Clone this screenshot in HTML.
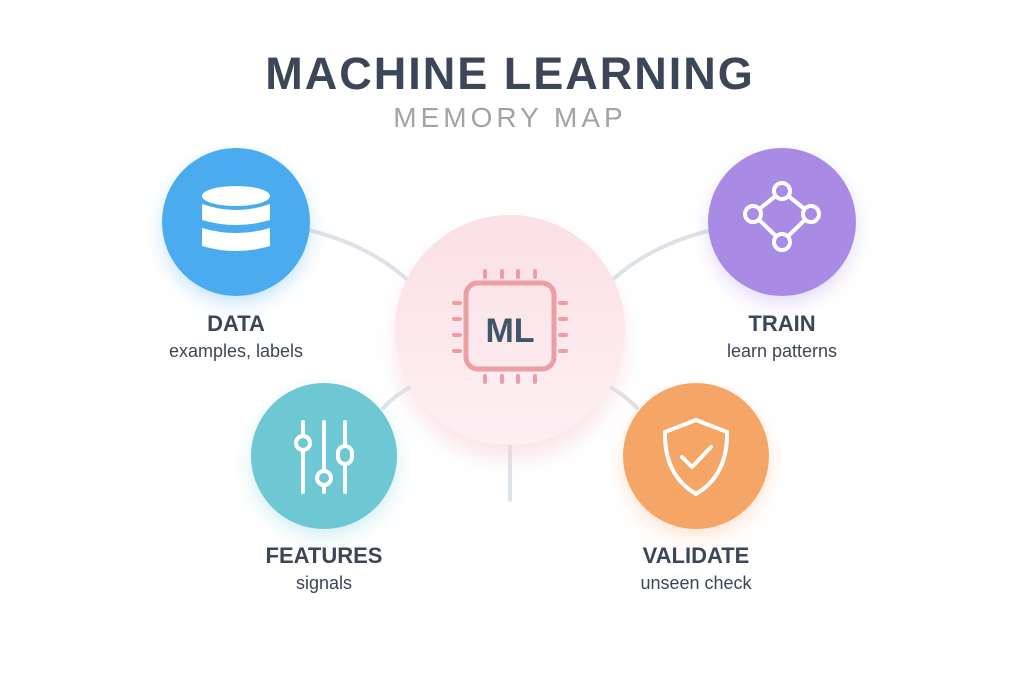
<!DOCTYPE html>
<html><head><meta charset="utf-8"><style>
body{margin:0;width:1024px;height:684px;background:#fff;overflow:hidden;font-family:"Liberation Sans",sans-serif;}
</style></head><body>
<svg width="1024" height="684" viewBox="0 0 1024 684" xmlns="http://www.w3.org/2000/svg">
<defs>
<filter id="sh" x="-50%" y="-50%" width="200%" height="200%"><feGaussianBlur stdDeviation="10"/></filter>
<linearGradient id="cg" x1="0" y1="0" x2="0" y2="1"><stop offset="0" stop-color="#fbe0e5"/><stop offset="1" stop-color="#fcf0f3"/></linearGradient>
</defs>
<text x="510" y="89" text-anchor="middle" font-size="45" font-weight="bold" fill="#3d4656" letter-spacing="2">MACHINE LEARNING</text>
<text x="510" y="127" text-anchor="middle" font-size="28" fill="#a3a3a3" letter-spacing="4">MEMORY MAP</text>
<g stroke="#dde2e8" stroke-width="4" fill="none" stroke-linecap="round">
<path d="M308 230 Q370 245 410 282"/>
<path d="M712 230 Q650 245 610 282"/>
<path d="M383 408 Q395 395 412 386"/>
<path d="M637 408 Q625 395 608 386"/>
<path d="M510 445 L510 500"/>
</g>
<circle cx="510" cy="345" r="115" fill="#f5d5dc" filter="url(#sh)" opacity="0.6"/>
<circle cx="510" cy="330" r="115" fill="url(#cg)"/>
<g fill="#ec9ea4">
<rect x="466" y="283" width="88" height="86" rx="12" fill="none" stroke="#ec9ea4" stroke-width="5"/>
<rect x="483" y="269" width="4" height="10" rx="2"/><rect x="500" y="269" width="4" height="10" rx="2"/><rect x="516" y="269" width="4" height="10" rx="2"/><rect x="533" y="269" width="4" height="10" rx="2"/>
<rect x="483" y="374" width="4" height="10" rx="2"/><rect x="500" y="374" width="4" height="10" rx="2"/><rect x="516" y="374" width="4" height="10" rx="2"/><rect x="533" y="374" width="4" height="10" rx="2"/>
<rect x="452" y="301" width="10" height="4" rx="2"/><rect x="452" y="317" width="10" height="4" rx="2"/><rect x="452" y="333" width="10" height="4" rx="2"/><rect x="452" y="349" width="10" height="4" rx="2"/>
<rect x="558" y="301" width="10" height="4" rx="2"/><rect x="558" y="317" width="10" height="4" rx="2"/><rect x="558" y="333" width="10" height="4" rx="2"/><rect x="558" y="349" width="10" height="4" rx="2"/>
</g>
<text x="510" y="342" text-anchor="middle" font-size="34" font-weight="bold" fill="#3f5568">ML</text>

<circle cx="236" cy="230" r="72" fill="#4aabef" filter="url(#sh)" opacity="0.35"/>
<circle cx="236" cy="222" r="74" fill="#4aabef"/>
<g fill="#fff">
<ellipse cx="236" cy="196" rx="34" ry="10"/>
<path d="M202 204 Q236 216 270 204 L270 220 Q236 230 202 220Z"/>
<path d="M202 228 Q236 238 270 228 L270 246 Q236 256 202 246Z"/>
</g>
<text x="236" y="331" text-anchor="middle" font-size="22" font-weight="bold" fill="#3d4656">DATA</text>
<text x="236" y="357" text-anchor="middle" font-size="18" fill="#3d4656">examples, labels</text>

<circle cx="782" cy="230" r="72" fill="#a98be6" filter="url(#sh)" opacity="0.35"/>
<circle cx="782" cy="222" r="74" fill="#a98be6"/>
<g fill="none" stroke="#fff" stroke-width="4">
<path d="M782 191 L811 214 L782 242 L753 214Z"/>
<circle cx="782" cy="191" r="8" fill="#a98be6"/><circle cx="811" cy="214" r="8" fill="#a98be6"/><circle cx="782" cy="242" r="8" fill="#a98be6"/><circle cx="753" cy="214" r="8" fill="#a98be6"/>
</g>
<text x="782" y="331" text-anchor="middle" font-size="22" font-weight="bold" fill="#3d4656">TRAIN</text>
<text x="782" y="357" text-anchor="middle" font-size="18" fill="#3d4656">learn patterns</text>

<circle cx="324" cy="464" r="71" fill="#6dc8d4" filter="url(#sh)" opacity="0.35"/>
<circle cx="324" cy="456" r="73" fill="#6dc8d4"/>
<g stroke="#fff" stroke-width="4" fill="#6dc8d4" stroke-linecap="round">
<line x1="303" y1="422" x2="303" y2="492"/><line x1="324" y1="422" x2="324" y2="492"/><line x1="345" y1="422" x2="345" y2="492"/>
<circle cx="303" cy="443" r="7"/><circle cx="324" cy="478" r="7"/><rect x="338" y="446" width="14" height="18" rx="7"/>
</g>
<text x="324" y="563" text-anchor="middle" font-size="22" font-weight="bold" fill="#3d4656">FEATURES</text>
<text x="324" y="589" text-anchor="middle" font-size="18" fill="#3d4656">signals</text>

<circle cx="696" cy="464" r="71" fill="#f5a566" filter="url(#sh)" opacity="0.35"/>
<circle cx="696" cy="456" r="73" fill="#f5a566"/>
<g stroke="#fff" stroke-width="4" fill="none" stroke-linejoin="round" stroke-linecap="round">
<path d="M696 420 L727 432 Q728 475 696 494 Q664 475 665 432Z"/>
<path d="M682 457 L692 467 L711 447"/>
</g>
<text x="696" y="563" text-anchor="middle" font-size="22" font-weight="bold" fill="#3d4656">VALIDATE</text>
<text x="696" y="589" text-anchor="middle" font-size="18" fill="#3d4656">unseen check</text>
</svg>
</body></html>
